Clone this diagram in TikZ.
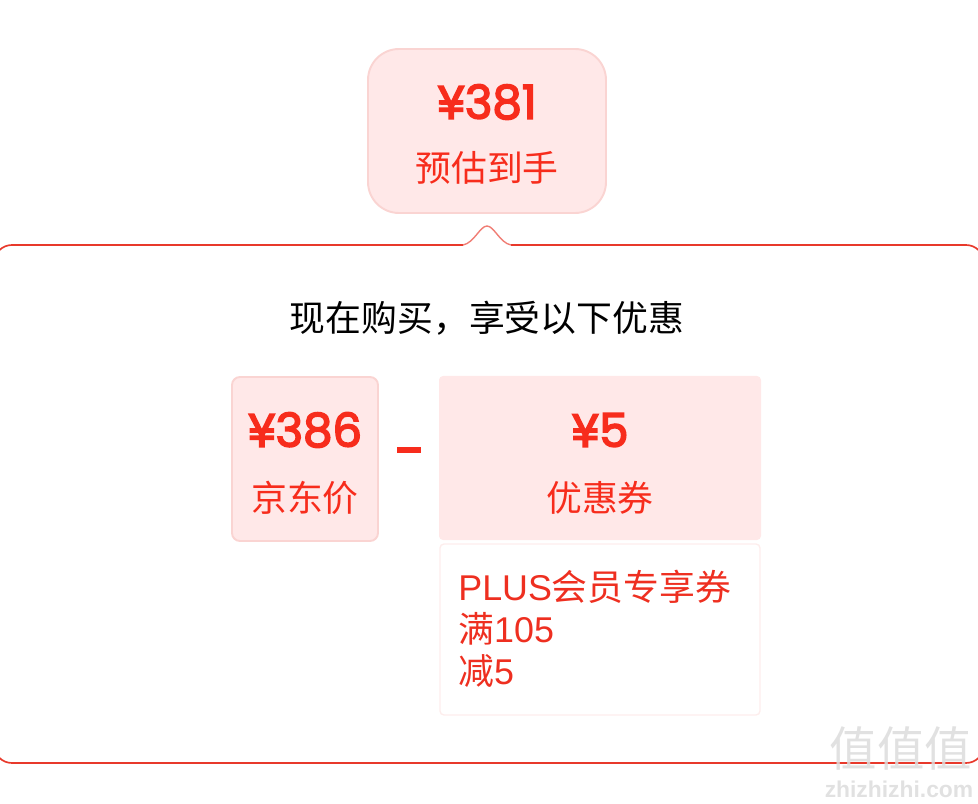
\documentclass[tikz,border=0pt]{standalone}
\usepackage{fontspec}
\setmainfont{Noto Sans CJK SC}
\newfontfamily\latinfont{Liberation Sans}
\newfontfamily\digitfont[FakeBold=3.5]{Poppins}
\usepackage{xcolor}
\usepackage{tikz}
\definecolor{pricered}{HTML}{F72C1C}
\definecolor{linered}{HTML}{E8392B}
\definecolor{infored}{HTML}{EE2F20}
\definecolor{boxpink}{HTML}{FFE8E8}
\definecolor{edgepink}{HTML}{FAD4D2}
\definecolor{cardedge}{HTML}{FDEDEC}
\definecolor{markgray}{HTML}{DCDCDC}
\tikzset{
    pricebox/.style={draw=edgepink, line width=1.1pt, fill=boxpink},
    bigprice/.style={text=pricered, font=\fontsize{26.5}{26.5}\selectfont\digitfont, inner sep=0pt},
    smallname/.style={text=pricered, font=\fontsize{20.4}{20.4}\selectfont, inner sep=0pt},
    waterline/.style={linered, line width=0.95pt}
}

\begin{document}
\begin{tikzpicture}[x=0.02cm, y=-0.02cm]
    \useasboundingbox (0,0) rectangle (978,804);
    \clip (0,0) rectangle (978,804);

    % Top tag
    \draw[pricebox, rounded corners=0.62cm] (368,49) rectangle (606,213);
    \node[bigprice] (totalprice) at (487,102) {¥381};
    \node[smallname] (totalname) at (487,167.5) {预估到手};

    % Outer panel with its notch
    \draw[waterline, rounded corners=0.36cm] (463,245) -- (-6,245) -- (-6,763) -- (984,763) -- (984,245) -- (511,245);
    \draw[linered!65, line width=0.8pt] (463,245) .. controls (474,243) and (480,226) .. (487,226)
        .. controls (494,226) and (500,243) .. (511,245);

    \node[font=\fontsize{20.4}{20.4}\selectfont, inner sep=0pt] (headline) at (487,318) {现在购买，享受以下优惠};

    % Price box
    \draw[pricebox, rounded corners=0.16cm] (232,377) rectangle (378,541);
    \node[bigprice] (baseprice) at (305,430) {¥386};
    \node[smallname] (basename) at (305,498) {京东价};

    % Minus sign
    \node[fill=pricered, minimum width=0.48cm, minimum height=0.11cm, inner sep=0pt] (minus) at (409,450) {};

    % Voucher box
    \fill[boxpink, rounded corners=0.08cm] (439,376) rectangle (761,540);
    \node[bigprice] (voucherprice) at (600,430) {¥5};
    \node[smallname] (vouchername) at (600,498) {优惠券};

    % Voucher details
    \draw[cardedge, line width=0.8pt, rounded corners=0.08cm] (440,544) rectangle (760,715);
    \node[smallname, anchor=north west, align=left, text=infored, font=\fontsize{20.4}{23.8}\selectfont] (voucherinfo) at (458,570) {{\latinfont PLUS}会员专享券\\满{\latinfont 105}\\减{\latinfont 5}};

    % Watermark
    \node[text=markgray, text opacity=0.85, font=\fontsize{27}{27}\selectfont, inner sep=0pt] (markglyph) at (901,748) {值值值};
    \node[text=markgray, text opacity=0.85, font=\fontsize{13}{13}\selectfont\latinfont\bfseries, inner sep=0pt] (marktext) at (899,789) {zhizhizhi.com};
\end{tikzpicture}
\end{document}
